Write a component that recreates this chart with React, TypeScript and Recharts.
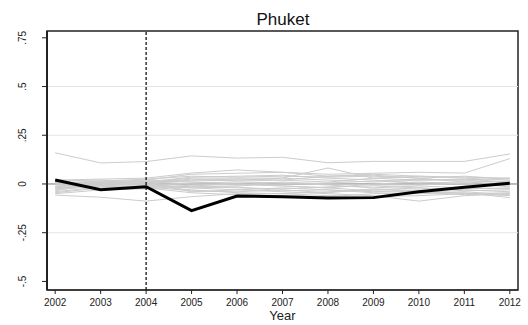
import { LineChart, Line, XAxis, YAxis, ReferenceLine, ReferenceArea, Label } from "recharts"

const years = [2002, 2003, 2004, 2005, 2006, 2007, 2008, 2009, 2010, 2011, 2012]
const yTicks = [-0.5, -0.25, 0, 0.25, 0.5, 0.75]
const yTickLabels = ["-.5", "-.25", "0", ".25", ".5", ".75"]
const gridValues = [-0.25, 0.25, 0.5]
const treatYear = 2004

// Phuket gap (treated)
const phuket = [0.02, -0.03, -0.014, -0.137, -0.062, -0.065, -0.072, -0.07, -0.04, -0.017, 0.004]

// placebo gaps (donor units)
const placebos: number[][] = [
  [0.16, 0.108, 0.115, 0.144, 0.133, 0.137, 0.109, 0.116, 0.116, 0.116, 0.154],
  [0.0, 0.01, 0.02, 0.05, 0.055, 0.06, 0.05, 0.055, 0.06, 0.056, 0.13],
  [-0.02, 0.0, 0.01, 0.03, 0.03, 0.03, 0.082, 0.03, 0.02, 0.02, 0.03],
  [-0.057, -0.068, -0.088, -0.065, -0.05, -0.05, -0.06, -0.065, -0.06, -0.05, -0.045],
  [-0.03, -0.01, 0.0, -0.02, -0.03, -0.04, -0.05, -0.06, -0.088, -0.06, -0.05],
  [0.02, 0.025, 0.03, 0.056, 0.072, 0.06, 0.04, 0.05, 0.04, 0.03, 0.02],
  [-0.035, 0.01, 0.01, -0.04, -0.03, -0.02, -0.03, -0.04, -0.03, -0.05, -0.06],
  [0.01, 0.005, 0.0, 0.02, 0.025, 0.02, 0.01, 0.03, 0.04, 0.035, 0.03],
  [-0.01, 0.0, 0.015, 0.01, 0.0, -0.01, -0.02, 0.0, 0.01, 0.0, -0.01],
  [0.005, 0.012, 0.005, -0.01, -0.02, -0.025, -0.015, -0.01, -0.02, -0.03, -0.04],
  [-0.045, -0.02, -0.01, -0.03, -0.045, -0.05, -0.04, -0.03, -0.02, -0.035, -0.03],
  [0.015, 0.02, 0.01, 0.035, 0.04, 0.045, 0.03, 0.02, 0.005, 0.01, 0.015],
  [-0.025, -0.005, -0.005, 0.005, 0.01, 0.005, -0.005, -0.02, -0.01, -0.02, -0.025],
  [0.0, -0.01, -0.02, -0.045, -0.055, -0.06, -0.065, -0.05, -0.045, -0.04, -0.055],
  [-0.015, 0.005, 0.02, 0.015, 0.02, 0.03, 0.02, 0.01, 0.02, 0.025, 0.01],
  [0.01, 0.0, -0.005, -0.015, -0.01, 0.0, 0.005, 0.015, 0.025, 0.02, 0.005],
  [-0.04, -0.015, -0.01, -0.02, -0.015, -0.035, -0.03, -0.045, -0.05, -0.045, -0.07],
  [0.005, 0.015, 0.025, 0.04, 0.035, 0.04, 0.035, 0.04, 0.03, 0.04, 0.025],
  [-0.02, -0.01, -0.015, -0.035, -0.04, -0.03, -0.045, -0.025, -0.035, -0.025, -0.02],
  [-0.005, 0.008, 0.012, 0.0, -0.005, 0.01, 0.0, -0.005, -0.005, 0.005, -0.015],
  [-0.05, -0.03, -0.025, -0.01, 0.0, -0.01, -0.02, -0.035, -0.04, -0.055, -0.05],
  [0.012, 0.0, 0.005, 0.025, 0.015, 0.02, 0.04, 0.045, 0.03, 0.01, 0.0],
]

const data = years.map((year, i) => {
  const row: Record<string, number> = { year, phuket: phuket[i] }
  placebos.forEach((p, j) => { row["p" + j] = p[i] })
  return row
})

const xMin = 2001.82
const xMax = 2012.18
const yMin = -0.544
const yMax = 0.785

const YTick = (props: any) => {
  const { y, payload } = props
  const idx = yTicks.indexOf(payload.value)
  return (
    <g transform={`translate(22,${y}) rotate(-90)`}>
      <text textAnchor="middle" dy="0.35em" fontSize={10} fill="#222">{yTickLabels[idx]}</text>
    </g>
  )
}

export default function App() {
  return (
    <div style={{ position: "absolute", left: 0, top: 0, width: 528, height: 325, background: "#fff", fontFamily: "'Liberation Sans', Arial, sans-serif" }}>
      <div style={{ position: "absolute", left: 0, width: 566, top: 10, textAlign: "center", fontSize: 17, color: "#111" }}>Phuket</div>
      <LineChart width={528} height={325} data={data} margin={{ top: 31, right: 10, bottom: 0, left: 0 }}>
        <XAxis dataKey="year" type="number" domain={[xMin, xMax]} ticks={years} allowDataOverflow
          tickSize={4} tickLine={{ stroke: "#222" }} axisLine={{ stroke: "#222" }} height={35}
          tick={{ fontSize: 10, fill: "#222" }} tickMargin={5} interval={0}>
          <Label value="Year" position="insideBottom" offset={5} fontSize={13} fill="#222" />
        </XAxis>
        <YAxis type="number" domain={[yMin, yMax]} ticks={yTicks} allowDataOverflow width={47}
          tickSize={5} tickLine={{ stroke: "#222" }} axisLine={{ stroke: "#222", strokeWidth: 2 }} tick={<YTick />} />
        {gridValues.map(v => (
          <ReferenceLine key={v} y={v} stroke="#e4e4e4" strokeWidth={1} />
        ))}
        <ReferenceLine y={0} stroke="#777" strokeWidth={1} />
        {placebos.map((_, j) => (
          <Line key={j} dataKey={"p" + j} stroke="#cccccc" strokeWidth={1} dot={false} isAnimationActive={false} />
        ))}
        <Line dataKey="phuket" stroke="#000" strokeWidth={3} dot={false} isAnimationActive={false} />
        <ReferenceLine x={treatYear} stroke="#000" strokeWidth={1.2} strokeDasharray="3 2" />
        <ReferenceArea x1={xMin} x2={xMax} y1={yMin} y2={yMax} fill="none" stroke="#222" strokeWidth={1.5} />
      </LineChart>
    </div>
  )
}
